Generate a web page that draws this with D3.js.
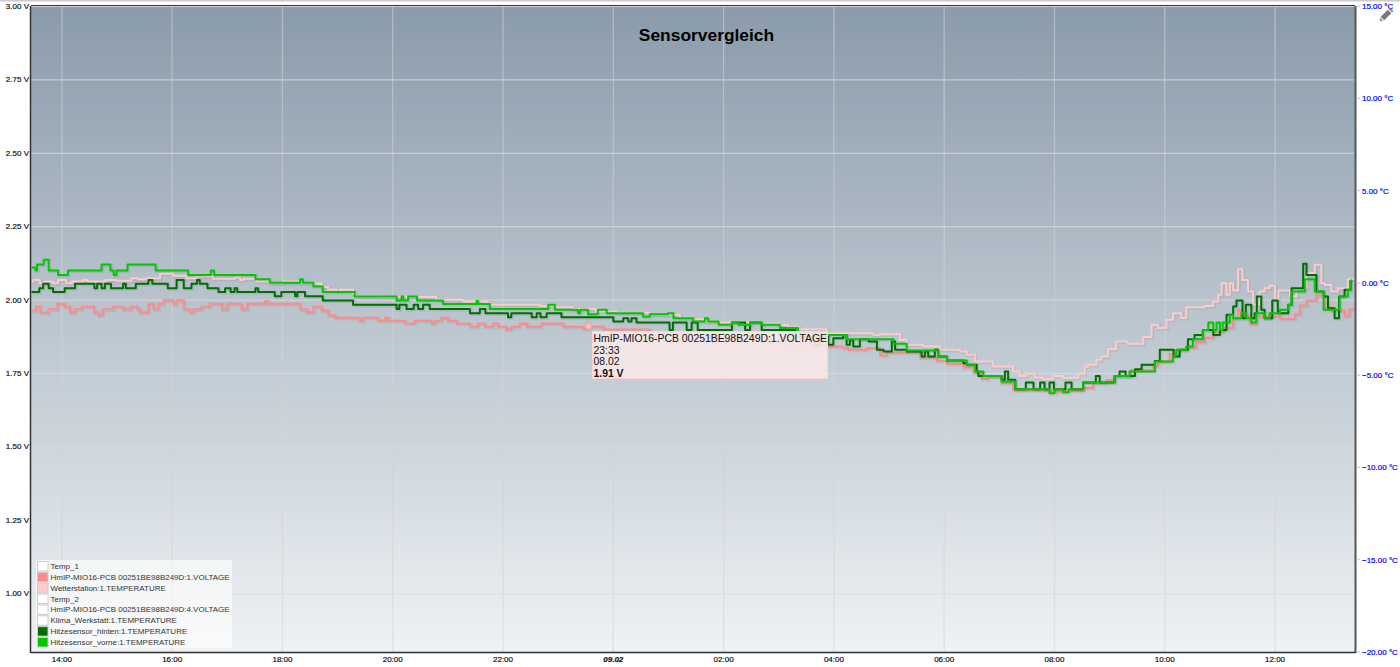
<!DOCTYPE html>
<html><head><meta charset="utf-8">
<script src="https://cdn.jsdelivr.net/npm/d3@7"></script>
<style>html,body{margin:0;padding:0;background:#fff;overflow:hidden}svg{display:block}text{font-family:"Liberation Sans",Arial,sans-serif}</style>
</head><body><svg id="c" width="1400" height="667"></svg>
<script>
const title = "Sensorvergleich";
const voltTicks = [1,1.25,1.5,1.75,2,2.25,2.5,2.75,3];
const tempTicks = [-20,-15,-10,-5,0,5,10,15];
const hourTicks = [14,16,18,20,22,24,26,28,30,32,34,36];
const hourLabels = ["14:00","16:00","18:00","20:00","22:00","09.02","02:00","04:00","06:00","08:00","10:00","12:00"];
const legendNames = ["Temp_1","HmIP-MIO16-PCB 00251BE98B249D:1.VOLTAGE","Wetterstation:1.TEMPERATURE","Temp_2","HmIP-MIO16-PCB 00251BE98B249D:4.VOLTAGE","Klima_Werkstatt:1.TEMPERATURE","Hitzesensor_hinten:1.TEMPERATURE","Hitzesensor_vorne:1.TEMPERATURE"];
const legendColors = [null,"#ff8a8a","#ffcaca",null,null,null,"#006e00","#00c800"];
const tooltipLines = ["HmIP-MIO16-PCB 00251BE98B249D:1.VOLTAGE","23:33","08.02","1.91 V"];
const tooltipPoint = [23.55,1.91];

// [hour since midnight of 08.02, volts]
const voltage = [[13.45,1.963],[13.53,1.976],[13.61,1.955],[13.75,1.967],[13.92,1.986],[14.05,1.976],[14.15,1.957],[14.24,1.967],[14.36,1.976],[14.58,1.957],[14.66,1.947],[14.74,1.967],[14.93,1.976],[15.11,1.967],[15.25,1.976],[15.37,1.967],[15.41,1.957],[15.57,1.986],[15.66,1.967],[15.75,1.986],[15.84,1.998],[16.02,1.986],[16.08,1.998],[16.21,1.967],[16.33,1.957],[16.39,1.967],[16.53,1.976],[16.68,1.986],[16.9,1.967],[17.0,1.986],[17.26,1.967],[17.36,1.986],[17.68,1.995],[17.74,1.986],[18.32,1.967],[18.44,1.957],[18.56,1.976],[18.71,1.963],[18.83,1.947],[18.95,1.938],[19.40,1.928],[19.46,1.938],[19.74,1.928],[19.86,1.938],[19.92,1.928],[20.22,1.919],[20.40,1.928],[20.70,1.919],[20.76,1.928],[20.88,1.938],[21.0,1.928],[21.16,1.919],[21.40,1.908],[21.55,1.919],[21.67,1.908],[21.82,1.919],[21.91,1.908],[22.06,1.898],[22.15,1.908],[22.30,1.919],[22.43,1.908],[22.70,1.919],[23.09,1.908],[23.45,1.90],[23.57,1.908],[23.82,1.898],[24.66,1.884],[25.57,1.874],[26.48,1.86],[27.2,1.847],[27.87,1.84],[28.17,1.835],[28.26,1.829],[28.6,1.835],[28.84,1.81],[28.96,1.82],[29.56,1.803],[29.86,1.792],[30.05,1.781],[30.35,1.769],[30.53,1.752],[30.68,1.73],[30.8,1.738],[31.04,1.715],[31.25,1.692],[31.82,1.69],[32.0,1.686],[32.16,1.69],[32.52,1.699],[32.7,1.715],[32.94,1.726],[33.09,1.738],[33.39,1.76],[33.79,1.775],[33.88,1.789],[34.09,1.815],[34.21,1.829],[34.39,1.837],[34.57,1.855],[34.72,1.87],[34.88,1.889],[35.06,1.904],[35.24,1.934],[35.33,1.965],[35.39,1.945],[35.54,1.917],[35.66,1.942],[36.09,1.934],[36.36,1.95],[36.45,1.98],[36.57,1.997],[36.75,2.014],[36.9,1.975],[37.02,1.963],[37.26,1.945],[37.35,1.968],[37.45,1.968]];

// [hour, °C]
const wetterstation = [[13.45,.07],[13.48,.16],[13.60,-.02],[13.69,.07],[13.84,-.02],[13.93,.16],[14.08,-.02],[14.18,.07],[14.39,.16],[14.46,.07],[14.78,.16],[14.99,.12],[15.26,.25],[15.38,.2],[15.54,.25],[15.78,.49],[16.02,.38],[16.26,.25],[16.44,.34],[16.74,.22],[17.14,.29],[17.23,.16],[17.29,.22],[17.53,.07],[17.77,-.02],[18.01,.07],[18.32,-.02],[18.59,-.05],[18.71,-.23],[18.83,-.38],[18.98,-.47],[19.04,-.38],[19.28,-.6],[19.34,-.74],[19.83,-.77],[20.79,-.92],[21.28,-1.01],[21.70,-1.1],[21.76,-1.19],[22.67,-1.25],[22.97,-1.32],[23.27,-1.42],[23.69,-1.55],[24.06,-1.62],[24.66,-1.73],[25.21,-1.92],[25.45,-1.97],[25.66,-2.1],[25.94,-2.15],[26.72,-2.22],[27.02,-2.28],[27.17,-2.4],[27.36,-2.51],[27.87,-2.73],[28.72,-2.82],[28.84,-2.78],[29.2,-3.09],[29.32,-3.36],[29.62,-3.45],[29.93,-3.63],[30.29,-3.72],[30.41,-3.9],[30.56,-4.26],[30.89,-4.53],[31.25,-4.8],[31.37,-5.04],[31.49,-4.93],[31.64,-5.13],[31.79,-5.22],[31.97,-5.04],[32.16,-5.15],[32.43,-4.93],[32.55,-4.53],[32.61,-4.44],[32.76,-4.17],[32.85,-3.99],[32.97,-3.59],[33.12,-3.18],[33.33,-3.3],[33.61,-2.94],[33.76,-2.28],[33.88,-2.45],[34.03,-2.0],[34.15,-1.64],[34.30,-1.9],[34.39,-1.32],[34.72,-1.25],[34.88,-1.01],[34.97,-.65],[35.03,-.02],[35.12,-.65],[35.18,-.02],[35.24,-.42],[35.33,.74],[35.41,.16],[35.51,-.47],[35.6,-1.19],[35.72,-.47],[35.81,-.29],[35.9,-.16],[36.0,-.92],[36.06,-.42],[36.27,-.74],[36.39,-.29],[36.57,.53],[36.72,.98],[36.84,-.02],[36.9,-.11],[37.02,-.47],[37.14,-.29],[37.32,.2],[37.45,.2]];

const hitzeHinten = [[13.45,-.5],[13.59,-.29],[13.66,-.05],[13.76,-.29],[13.84,-.5],[14.05,-.29],[14.24,-.05],[14.59,-.29],[14.64,-.05],[14.72,-.29],[14.78,-.05],[14.89,-.29],[15.11,-.05],[15.16,-.29],[15.34,-.05],[15.57,.16],[15.64,-.05],[15.92,-.29],[16.08,.16],[16.21,-.29],[16.35,-.05],[16.45,.16],[16.50,-.05],[16.64,-.29],[16.84,-.5],[16.96,-.29],[17.06,-.5],[17.13,-.29],[17.18,-.5],[17.51,-.29],[17.56,-.5],[17.86,-.72],[17.98,-.5],[18.23,-.72],[18.27,-.5],[18.41,-.72],[18.73,-.96],[19.28,-1.19],[20.07,-1.42],[20.12,-1.19],[20.25,-1.42],[20.38,-1.19],[20.46,-1.42],[20.55,-1.19],[20.67,-1.42],[21.40,-1.64],[21.58,-1.42],[21.68,-1.64],[22.09,-1.86],[22.15,-1.64],[22.52,-1.86],[22.61,-1.64],[22.68,-1.86],[22.79,-1.64],[23.06,-1.86],[24.0,-2.1],[24.18,-1.92],[24.27,-2.1],[24.33,-1.92],[24.42,-2.15],[25.02,-2.55],[25.08,-2.15],[25.33,-2.55],[25.42,-2.15],[25.53,-2.55],[26.15,-2.15],[26.39,-2.55],[26.48,-2.15],[26.69,-2.55],[27.3,-2.9],[27.66,-3.36],[27.75,-2.9],[27.9,-3.36],[27.99,-3.0],[28.17,-2.82],[28.23,-3.36],[28.29,-3.09],[28.35,-3.45],[28.47,-3.05],[28.63,-3.18],[28.78,-3.63],[28.90,-3.72],[29.05,-3.18],[29.11,-3.63],[29.32,-3.72],[29.59,-3.99],[29.65,-3.72],[29.71,-3.99],[29.83,-3.63],[29.89,-3.99],[30.05,-4.21],[30.35,-4.35],[30.41,-4.44],[30.59,-4.8],[30.62,-5.04],[31.04,-5.25],[31.10,-4.8],[31.16,-5.25],[31.29,-5.76],[31.48,-5.4],[31.62,-5.76],[31.74,-5.4],[31.82,-5.76],[31.91,-5.4],[31.99,-5.76],[32.2,-5.4],[32.31,-5.76],[32.52,-5.4],[32.75,-5.04],[32.82,-5.4],[33.09,-5.04],[33.18,-4.8],[33.29,-5.04],[33.46,-4.68],[33.58,-4.44],[33.82,-4.23],[33.91,-3.63],[34.16,-3.99],[34.27,-3.63],[34.42,-3.05],[34.54,-2.82],[34.69,-2.55],[34.88,-2.82],[35.0,-2.55],[35.12,-1.73],[35.24,-1.28],[35.30,-.96],[35.41,-1.92],[35.47,-1.19],[35.57,-1.92],[35.63,-1.64],[35.67,-.74],[35.75,-1.46],[35.81,-1.92],[35.95,-.96],[36.05,-1.64],[36.24,-1.19],[36.30,-.29],[36.51,1.03],[36.57,.43],[36.75,-.47],[36.88,-.74],[36.96,-1.37],[37.08,-1.92],[37.16,-.74],[37.26,-.38],[37.37,.12],[37.40,.12]];

const hitzeVorne = [[13.45,.83],[13.52,.67],[13.55,1.0],[13.67,1.25],[13.76,.67],[13.93,.43],[14.11,.67],[14.72,1.0],[14.88,.67],[14.94,.43],[14.99,.67],[15.19,1.0],[15.70,.67],[16.29,.43],[16.70,.67],[16.76,.43],[17.51,.2],[17.77,0],[18.32,.2],[18.37,0],[18.56,-.2],[18.73,-.5],[19.31,-.74],[20.07,-.96],[20.16,-.74],[20.19,-.96],[20.28,-.74],[20.44,-.96],[20.91,-1.15],[21.52,-.98],[21.55,-1.15],[21.76,-1.42],[22.82,-1.19],[22.94,-1.46],[23.36,-1.64],[23.40,-1.46],[23.54,-1.7],[23.72,-1.46],[23.88,-1.64],[24.54,-1.83],[24.66,-1.7],[24.99,-1.64],[25.09,-1.92],[25.45,-2.1],[25.66,-1.92],[25.72,-2.1],[25.91,-2.27],[26.15,-2.15],[26.27,-2.27],[26.48,-2.15],[26.69,-2.27],[27.02,-2.45],[27.35,-2.7],[27.66,-3.4],[27.75,-2.82],[28.23,-3.05],[29.08,-3.3],[29.32,-3.67],[29.89,-3.99],[30.05,-4.2],[30.41,-4.44],[30.56,-4.8],[30.71,-5.04],[31.04,-5.35],[31.29,-5.76],[31.91,-5.98],[32.0,-5.76],[32.16,-5.93],[32.26,-5.76],[32.52,-5.4],[33.09,-5.04],[33.36,-4.8],[33.82,-4.26],[34.15,-3.95],[34.21,-3.63],[34.39,-3.45],[34.51,-3.05],[34.69,-2.55],[34.79,-2.15],[34.88,-2.55],[34.94,-2.15],[35.0,-2.55],[35.05,-2.15],[35.18,-1.73],[35.24,-1.92],[35.39,-1.64],[35.48,-1.92],[35.57,-2.15],[35.66,-1.64],[35.81,-1.92],[35.90,-1.64],[36.09,-1.46],[36.24,-1.19],[36.30,-.47],[36.54,.2],[36.72,-.47],[36.88,-1.46],[37.17,-.74],[37.32,-.38],[37.37,.12],[37.40,.12]];

const W=1400,H=667,L=31,R=1355,T=6,B=652;
const svg=d3.select("#c");
const x=d3.scaleLinear().domain([13.44,37.45]).range([L,R]);
const yV=d3.scaleLinear().domain([0.8,3]).range([B,T]);
const yT=d3.scaleLinear().domain([-20,15]).range([B,T]);

const defs=svg.append("defs");
const g=defs.append("linearGradient").attr("id","bg").attr("x1",0).attr("x2",0).attr("y1",0).attr("y2",1);
g.append("stop").attr("offset",0).attr("stop-color","#8a9bab");
g.append("stop").attr("offset",1).attr("stop-color","#eef2f4");
defs.append("clipPath").attr("id","clip").append("rect").attr("x",L).attr("y",T).attr("width",R-L).attr("height",B-T);

svg.append("rect").attr("x",0).attr("y",0).attr("width",W).attr("height",1.5).attr("fill","#ccc");
svg.append("rect").attr("x",L).attr("y",T).attr("width",R-L).attr("height",B-T).attr("fill","url(#bg)");

// grid
svg.append("g").selectAll("line").data(hourTicks).join("line")
  .attr("x1",d=>x(d)).attr("x2",d=>x(d)).attr("y1",T).attr("y2",B).attr("stroke","#d4d4d4").attr("stroke-width",1.3).attr("stroke-opacity",.55);
svg.append("g").selectAll("line").data(voltTicks).join("line")
  .attr("x1",L).attr("x2",R).attr("y1",d=>yV(d)+.5).attr("y2",d=>yV(d)+.5).attr("stroke","#dcdcdc").attr("stroke-opacity",.85);

// series
const plot=svg.append("g").attr("clip-path","url(#clip)");
function series(data,yS,color,w){
  const ln=d3.line().x(d=>x(d[0])).y(d=>yS(d[1])).curve(d3.curveStepAfter);
  for(const [sw,op] of [[w+2,.02],[w+1,.04]])
    plot.append("path").datum(data).attr("d",ln).attr("transform","translate(1,1)").attr("fill","none").attr("stroke","#000").attr("stroke-width",sw).attr("stroke-opacity",op);
  plot.append("path").datum(data).attr("d",ln).attr("fill","none").attr("stroke",color).attr("stroke-width",w).attr("stroke-linejoin","round");
}
series(voltage,yV,"#ff8a8a",2);
series(wetterstation,yT,"#ffcaca",2);
series(hitzeHinten,yT,"#006e00",2);
series(hitzeVorne,yT,"#00c800",2);

// hover marker
svg.append("circle").attr("cx",x(tooltipPoint[0])).attr("cy",yV(tooltipPoint[1])).attr("r",3.5).attr("fill","#ffbcbc").attr("stroke","#f09a9a");

// frame
svg.append("line").attr("x1",L).attr("x2",R).attr("y1",T-.5).attr("y2",T-.5).attr("stroke","#333");
svg.append("line").attr("x1",L-.5).attr("x2",L-.5).attr("y1",T).attr("y2",B+1).attr("stroke","#333").attr("stroke-width",1.5);
svg.append("line").attr("x1",R+.5).attr("x2",R+.5).attr("y1",T).attr("y2",B+1).attr("stroke","#555").attr("stroke-width",2);
svg.append("line").attr("x1",L).attr("x2",R+1).attr("y1",B+.5).attr("y2",B+.5).attr("stroke","#333").attr("stroke-width",1.5);

// axes labels
const axisText="#111";
svg.append("g").selectAll("text").data(voltTicks).join("text")
  .attr("x",L-2).attr("y",d=>yV(d)+3).attr("text-anchor","end").attr("font-size",8).attr("fill",axisText).attr("stroke",axisText).attr("stroke-width",.2).text(d=>d3.format(".2f")(d)+" V");
svg.append("g").selectAll("text").data(tempTicks).join("text")
  .attr("x",R+7).attr("y",d=>yT(d)+3).attr("font-size",8).attr("fill","#0000ff").attr("stroke","#0000ff").attr("stroke-width",.2).text(d=>d3.format(".2f")(d)+" °C");
svg.append("g").selectAll("line").data(tempTicks).join("line")
  .attr("x1",R+1).attr("x2",R+5).attr("y1",d=>yT(d)).attr("y2",d=>yT(d)).attr("stroke","#c0c0d8");
svg.append("g").selectAll("text").data(hourTicks).join("text")
  .attr("x",d=>x(d)).attr("y",662).attr("text-anchor","middle").attr("font-size",8).attr("fill",axisText).attr("stroke",axisText).attr("stroke-width",.2)
  .attr("font-weight",(d,i)=>hourLabels[i].includes(".")?"bold":null)
  .attr("font-style",(d,i)=>hourLabels[i].includes(".")?"italic":null)
  .text((d,i)=>hourLabels[i]);

svg.append("text").attr("x",706.5).attr("y",41).attr("text-anchor","middle").attr("font-size",17.4).attr("font-weight","bold").attr("fill","#000").text(title);

// legend
const lg=svg.append("g");
lg.append("rect").attr("x",36).attr("y",560).attr("width",196).attr("height",88).attr("fill","#fff").attr("fill-opacity",.62);
const rowY=d3.scaleLinear().domain([0,7]).range([566,642]);
lg.selectAll("rect.s").data(legendNames).join("rect").attr("class","s")
  .attr("x",37.5).attr("y",(d,i)=>rowY(i)-4.5).attr("width",10.5).attr("height",9.5)
  .attr("fill",(d,i)=>legendColors[i]||"#fff").attr("stroke","#ccc");
lg.selectAll("text").data(legendNames).join("text")
  .attr("x",50.5).attr("y",(d,i)=>rowY(i)+3).attr("font-size",7.97).attr("fill","#333").text(d=>d);

// tooltip
const tp=svg.append("g");
tp.append("rect").attr("x",592.5).attr("y",331.5).attr("width",235).attr("height",47).attr("fill","#f8e8e8").attr("fill-opacity",.9).attr("stroke","#fcd2d2");
tp.selectAll("text").data(tooltipLines).join("text")
  .attr("x",593.5).attr("y",(d,i)=>342+i*11.5).attr("font-size",10.4).attr("fill","#111")
  .attr("font-weight",(d,i)=>i===3?"bold":null).text(d=>d);

// edit icon
const icon=svg.append("g").attr("transform","translate(1386,15) rotate(45)");
icon.append("rect").attr("x",-2.5).attr("y",-5).attr("width",5).attr("height",10).attr("fill","#777");
icon.append("path").attr("d","M-2.5,6 L2.5,6 L0,9 Z").attr("fill","#999");
icon.append("rect").attr("x",-2.5).attr("y",-8).attr("width",5).attr("height",2).attr("fill","#888");
</script></body></html>
